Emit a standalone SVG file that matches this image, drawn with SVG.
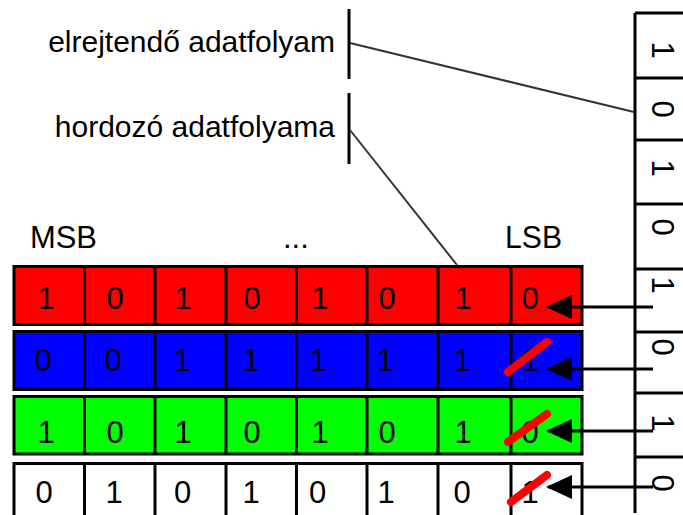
<svg xmlns="http://www.w3.org/2000/svg" width="683" height="515" viewBox="0 0 683 515">
<style>
.lbl{font-family:"Liberation Sans",Arial,sans-serif;font-size:30px;fill:#000}
.hdr{font-family:"Liberation Sans",Arial,sans-serif;font-size:31px;fill:#000}
.dg{font-family:"Liberation Sans",Arial,sans-serif;font-size:31px;fill:#000;text-anchor:middle}
.sd{font-family:"Liberation Sans",Arial,sans-serif;font-size:31px;fill:#000;text-anchor:middle;dominant-baseline:central}
.cell{stroke:#000;stroke-width:3}
.bar{stroke:#000;stroke-width:3;fill:none}
.conn{stroke:#333;stroke-width:2;fill:none}
.arr{stroke:#000;stroke-width:3;fill:none;marker-end:url(#ah)}
.slash{stroke:#ff0000;stroke-width:8;stroke-linecap:round}
</style>
<defs>
<marker id="ah" markerUnits="userSpaceOnUse" markerWidth="26" markerHeight="24" refX="24" refY="12" orient="auto">
<path d="M0,0 L26,12 L0,24 z" fill="#000"/>
</marker>
</defs>

<g id="labels">
<text class="lbl" x="335" y="52" text-anchor="end">elrejtendő adatfolyam</text>
<line class="bar" x1="349" y1="9" x2="349" y2="79"/>
<text class="lbl" x="335" y="137" text-anchor="end">hordozó adatfolyama</text>
<line class="bar" x1="349" y1="93" x2="349" y2="164"/>
<text class="hdr" x="30" y="248" textLength="67" lengthAdjust="spacingAndGlyphs">MSB</text>
<text class="hdr" x="283" y="248">...</text>
<text class="hdr" x="505" y="248" textLength="57" lengthAdjust="spacingAndGlyphs">LSB</text>
</g>

<g id="row-red">
<rect class="cell" x="14" y="266.5" width="568" height="58" fill="#ff0000"/>
<path class="bar" d="M84.5,266.5V324.5M155,266.5V324.5M226,266.5V324.5M296.5,266.5V324.5M367,266.5V324.5M438,266.5V324.5M511,266.5V324.5"/>
<text class="dg" y="309"><tspan x="46">1</tspan><tspan x="115">0</tspan><tspan x="183">1</tspan><tspan x="252">0</tspan><tspan x="320">1</tspan><tspan x="387">0</tspan><tspan x="463">1</tspan><tspan x="530">0</tspan></text>
</g>

<g id="row-blue">
<rect class="cell" x="14" y="331.5" width="568" height="58" fill="#0000ff"/>
<path class="bar" d="M84.5,331.5V389.5M155,331.5V389.5M226,331.5V389.5M296.5,331.5V389.5M367,331.5V389.5M438,331.5V389.5M511,331.5V389.5"/>
<text class="dg" y="371"><tspan x="43">0</tspan><tspan x="113">0</tspan><tspan x="182">1</tspan><tspan x="251">1</tspan><tspan x="318">1</tspan><tspan x="385">1</tspan><tspan x="462">1</tspan><tspan x="530">1</tspan></text>
</g>

<g id="row-green">
<rect class="cell" x="14" y="396.5" width="568" height="57.5" fill="#00ff00"/>
<path class="bar" d="M84.5,396.5V454M155,396.5V454M226,396.5V454M296.5,396.5V454M367,396.5V454M438,396.5V454M511,396.5V454"/>
<text class="dg" y="443"><tspan x="46">1</tspan><tspan x="115">0</tspan><tspan x="183">1</tspan><tspan x="252">0</tspan><tspan x="320">1</tspan><tspan x="387">0</tspan><tspan x="463">1</tspan><tspan x="530">0</tspan></text>
</g>

<g id="row-white">
<rect class="cell" x="14" y="463.5" width="568" height="60" fill="#ffffff"/>
<path class="bar" d="M84.5,463.5V515M155,463.5V515M226,463.5V515M296.5,463.5V515M367,463.5V515M438,463.5V515M511,463.5V515"/>
<text class="dg" y="503"><tspan x="44">0</tspan><tspan x="114">1</tspan><tspan x="182.5">0</tspan><tspan x="251">1</tspan><tspan x="317.5">0</tspan><tspan x="386">1</tspan><tspan x="462">0</tspan><tspan x="530">1</tspan></text>
</g>

<g id="strip">
<path class="bar" d="M635,13V513M635,13H683M635,78H683M635,140H683M635,204H683M635,269H683M635,332H683M635,393H683M635,457H683"/>
<text class="sd" transform="translate(662,50) rotate(90)">1</text>
<text class="sd" transform="translate(662,109) rotate(90)">0</text>
<text class="sd" transform="translate(662,168) rotate(90)">1</text>
<text class="sd" transform="translate(662,227) rotate(90)">0</text>
<text class="sd" transform="translate(662,285) rotate(90)">1</text>
<text class="sd" transform="translate(662,347) rotate(90)">0</text>
<text class="sd" transform="translate(662,423) rotate(90)">1</text>
<text class="sd" transform="translate(662,483) rotate(90)">0</text>
</g>

<g id="slashes">
<line class="slash" x1="508" y1="372" x2="547" y2="342"/>
<line class="slash" x1="508" y1="442" x2="547" y2="414"/>
<line class="slash" x1="511" y1="502" x2="547" y2="475"/>
</g>

<g id="connectors">
<line class="conn" x1="350" y1="43" x2="634" y2="112"/>
<line class="conn" x1="350" y1="130" x2="457" y2="265"/>
<line class="arr" x1="653" y1="307" x2="548" y2="307"/>
<line class="arr" x1="653" y1="369" x2="548" y2="369"/>
<line class="arr" x1="653" y1="431" x2="548" y2="431"/>
<line class="arr" x1="653" y1="487" x2="548" y2="487"/>
</g>
</svg>
